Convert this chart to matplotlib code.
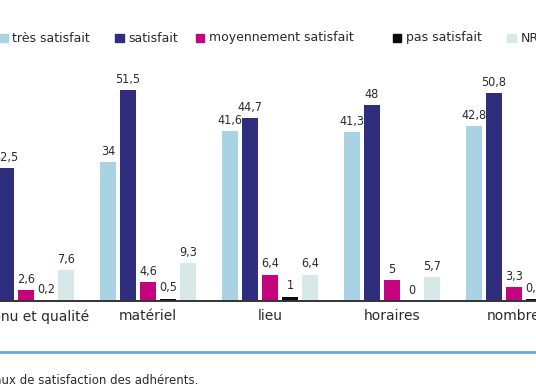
"""Taux de satisfaction des adhérents - grouped bars (cropped view)."""
import matplotlib
matplotlib.use("Agg")
import matplotlib.pyplot as plt
import numpy as np
from matplotlib.lines import Line2D
from matplotlib.patches import Rectangle

# Data (percent).
categories = ["contenu et qualité", "matériel", "lieu", "horaires", "nombre"]
series_names = ["très satisfait", "satisfait", "moyennement satisfait",
                "pas satisfait", "NR"]
tres_satisfait = [57.1, 34, 41.6, 41.3, 42.8]
satisfait = [32.5, 51.5, 44.7, 48, 50.8]
moyennement = [2.6, 4.6, 6.4, 5, 3.3]
pas_satisfait = [0.2, 0.5, 1, 0, 0.3]
nr = [7.6, 9.3, 6.4, 5.7, 2.8]
caption = "Taux de satisfaction des adhérents."

COLORS = ["#a9d3e2", "#2f2d7e", "#c4047c", "#0c0c0c", "#d7e8e8"]
TEXT = "#2a2a2a"
LAB_FONT = ["DejaVu Sans"]

W, H = 536, 386
fig = plt.figure(figsize=(W / 100, H / 100), dpi=100, facecolor="white")

# Axes spans the whole width; the view is cropped through xlim.
base_px = 300.7
ax = fig.add_axes([0, (H - base_px) / H, 1, 245 / H])
ax.set_ylim(0, 60)
group_step = 6.1
x = np.arange(len(categories)) * group_step
ax.set_xlim(-1.3, 25.5)

all_series = [tres_satisfait, satisfait, moyennement, pas_satisfait, nr]
for j, (vals, col) in enumerate(zip(all_series, COLORS)):
    bars = ax.bar(x + (j - 2), vals, width=0.8, color=col, zorder=2)
    labels = [f"{v:g}".replace(".", ",") for v in vals]
    ax.bar_label(bars, labels=labels, padding=3, fontsize=9,
                 family=LAB_FONT, fontstretch="condensed", color=TEXT)

for side in ["left", "right", "top"]:
    ax.spines[side].set_visible(False)
ax.spines["bottom"].set_color("#333333")
ax.spines["bottom"].set_linewidth(1.4)
ax.set_yticks([])
ax.set_xticks(x)
ax.set_xticklabels(categories, fontsize=10, family=LAB_FONT, color=TEXT)
ax.tick_params(axis="x", length=0, pad=6)

# Legend row drawn by hand (uneven spacing in the original).
leg_x = [-1, 115, 195.5, 392.5, 507]
leg_y = 38
sq = 8.5
for name, col, lx in zip(series_names, COLORS, leg_x):
    fig.add_artist(Rectangle((lx / W, 1 - (leg_y + sq / 2) / H), sq / W, sq / H,
                             transform=fig.transFigure, color=col))
    fig.text((lx + sq + 5) / W, 1 - leg_y / H, name, fontsize=9,
             family=LAB_FONT, color=TEXT, ha="left", va="center")

# Blue rule and caption.
fig.add_artist(Line2D([0, 1], [1 - 352 / H] * 2, color="#6fa6d8", lw=2,
                      transform=fig.transFigure))
fig.text(198 / W, 1 - 380 / H, caption, fontsize=8.5, family=LAB_FONT,
         color=TEXT, ha="right", va="center")

fig.savefig("out.png", dpi=100, facecolor="white")
